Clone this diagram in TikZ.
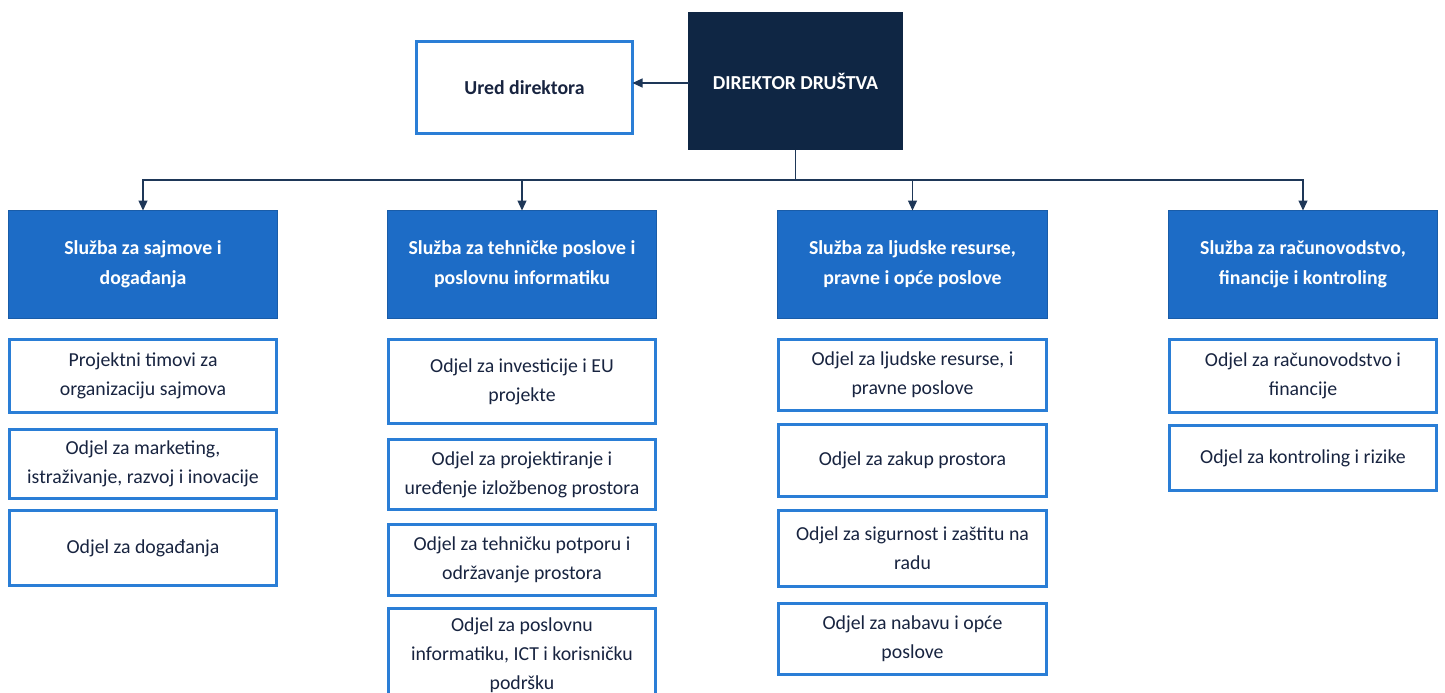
\documentclass[tikz,border=0pt]{standalone}
\usepackage{fontspec}
\setmainfont{Carlito}
\usetikzlibrary{arrows.meta,calc}
\definecolor{hdrblue}{RGB}{29,108,198}
\definecolor{subblue}{RGB}{42,126,214}
\definecolor{navy}{RGB}{15,38,68}
\definecolor{txtdark}{RGB}{24,36,64}
\definecolor{connc}{RGB}{30,55,88}
\tikzset{
  base/.style={rectangle, inner sep=2pt, outer sep=0pt, align=center,
    font=\fontsize{19.8}{29}\selectfont},
  dirbox/.style={base, fill=navy, draw=navy, line width=1pt, text=white, font=\fontsize{19.8}{29}\selectfont\bfseries},
  uredbox/.style={base, fill=white, draw=subblue, line width=3pt, text=txtdark, font=\fontsize{19.8}{29}\selectfont\bfseries},
  hdrbox/.style={base, fill=hdrblue, draw=hdrblue!85!black, line width=1pt, text=white, font=\fontsize{19.8}{30}\selectfont\bfseries},
  subbox/.style={base, fill=white, draw=subblue, line width=3pt, text=txtdark},
  conn/.style={draw=connc, line width=1.3pt},
  arr/.style={conn, -{Triangle[length=10pt,width=9pt]}}
}
\begin{document}
\begin{tikzpicture}[x=1pt,y=-1pt]
\useasboundingbox (0,0) rectangle (1445,693);
\clip (0,0) rectangle (1445,693);
\fill[white] (0,0) rectangle (1445,693);
% top
\node[dirbox, minimum width=214pt, minimum height=137pt] (dir) at (795.5,81) {DIREKTOR DRUŠTVA};
\node[uredbox, minimum width=216pt, minimum height=92pt] (ured) at (524.5,87.5) {Ured direktora};
% headers
\node[hdrbox, minimum width=269pt, minimum height=108pt] (h1) at (143,264.5) {Služba za sajmove i\\događanja};
\node[hdrbox, minimum width=269pt, minimum height=108pt] (h2) at (522,264.5) {Služba za tehničke poslove i\\poslovnu informatiku};
\node[hdrbox, minimum width=270pt, minimum height=108pt] (h3) at (912.5,264.5) {Služba za ljudske resurse,\\pravne i opće poslove};
\node[hdrbox, minimum width=269pt, minimum height=108pt] (h4) at (1303,264.5) {Služba za računovodstvo,\\financije i kontroling};
% column 1
\node[subbox, minimum width=267pt, minimum height=73pt] (a1) at (143,376) {Projektni timovi za\\organizaciju sajmova};
\node[subbox, minimum width=267pt, minimum height=69pt] (a2) at (143,464) {Odjel za marketing,\\istraživanje, razvoj i inovacije};
\node[subbox, minimum width=267pt, minimum height=75pt] (a3) at (143,548) {Odjel za događanja};
% column 2
\node[subbox, minimum width=267pt, minimum height=84pt] (b1) at (522,381.5) {Odjel za investicije i EU\\projekte};
\node[subbox, minimum width=267pt, minimum height=70pt] (b2) at (522,474.5) {Odjel za projektiranje i\\uređenje izložbenog prostora};
\node[subbox, minimum width=267pt, minimum height=71pt] (b3) at (522,560) {Odjel za tehničku potporu i\\održavanje prostora};
\node[subbox, minimum width=267pt, minimum height=94pt] (b4) at (522,655.5) {Odjel za poslovnu\\informatiku, ICT i korisničku\\podršku};
% column 3
\node[subbox, minimum width=268pt, minimum height=71pt] (c1) at (912.5,375) {Odjel za ljudske resurse, i\\pravne poslove};
\node[subbox, minimum width=268pt, minimum height=72pt] (c2) at (912.5,460.5) {Odjel za zakup prostora};
\node[subbox, minimum width=268pt, minimum height=76pt] (c3) at (912.5,548.5) {Odjel za sigurnost i zaštitu na\\radu};
\node[subbox, minimum width=268pt, minimum height=71pt] (c4) at (912.5,639) {Odjel za nabavu i opće\\poslove};
% column 4
\node[subbox, minimum width=267pt, minimum height=73pt] (d1) at (1303,376) {Odjel za računovodstvo i\\financije};
\node[subbox, minimum width=267pt, minimum height=65pt] (d2) at (1303,458) {Odjel za kontroling i rizike};
% connectors
\coordinate (bus) at (795.5,180);
\draw[arr] (dir.west |- 0,83) -- (ured.east |- 0,83);
\draw[conn] (dir.south) -- (bus);
\draw[arr] (bus) -| (h1.north);
\draw[arr] (bus) -| (h2.north);
\draw[arr] (bus) -| (h3.north);
\draw[arr] (bus) -| (h4.north);
\end{tikzpicture}
\end{document}
